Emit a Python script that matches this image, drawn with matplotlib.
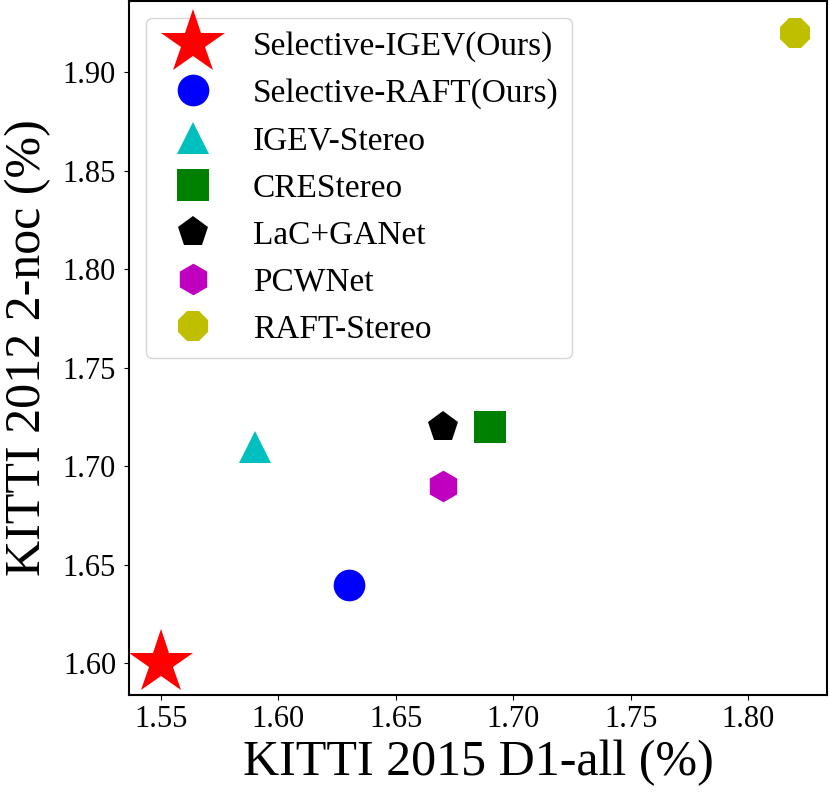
import matplotlib
matplotlib.use("Agg")
import matplotlib.pyplot as plt
from matplotlib.ticker import FormatStrFormatter

plt.rcParams['font.family'] = ['Liberation Serif', 'DejaVu Serif']

methods = ["Selective-IGEV(Ours)", "Selective-RAFT(Ours)", "IGEV-Stereo",
           "CREStereo", "LaC+GANet", "PCWNet", "RAFT-Stereo"]
kitti2015_d1all = [1.55, 1.63, 1.59, 1.69, 1.67, 1.67, 1.82]
kitti2012_2noc = [1.60, 1.64, 1.71, 1.72, 1.72, 1.69, 1.92]
colors = ["r", "b", "c", "g", "k", "m", "y"]
markers = ["*", "o", "^", "s", "p", "h", "8"]
msizes = [48.3, 22.8, 22.8, 22.8, 22.8, 22.8, 22.8]

fig = plt.figure(figsize=(8.3, 7.98), dpi=100)
ax = fig.add_axes([0.1558, 0.1291, 0.996 - 0.1558, 0.9987 - 0.1291])

for m, x, y, c, mk, ms in zip(methods, kitti2015_d1all, kitti2012_2noc, colors, markers, msizes):
    ax.plot([x], [y], linestyle='none', marker=mk, markersize=ms, color=c,
            markeredgewidth=0, label=m)

ax.set_xlabel("KITTI 2015 D1-all (%)", fontsize=36)
ax.set_ylabel("KITTI 2012 2-noc (%)", fontsize=36)
ax.tick_params(labelsize=22)
ax.tick_params(axis='y', pad=6)
ax.xaxis.set_major_formatter(FormatStrFormatter('%.2f'))
ax.yaxis.set_major_formatter(FormatStrFormatter('%.2f'))
ax.yaxis.set_label_coords(-0.112, 0.5)
for sp in ax.spines.values():
    sp.set_linewidth(1.5)

ax.legend(loc="upper left", fontsize=24, labelspacing=0.5)

fig.savefig("out.png", dpi=100)
